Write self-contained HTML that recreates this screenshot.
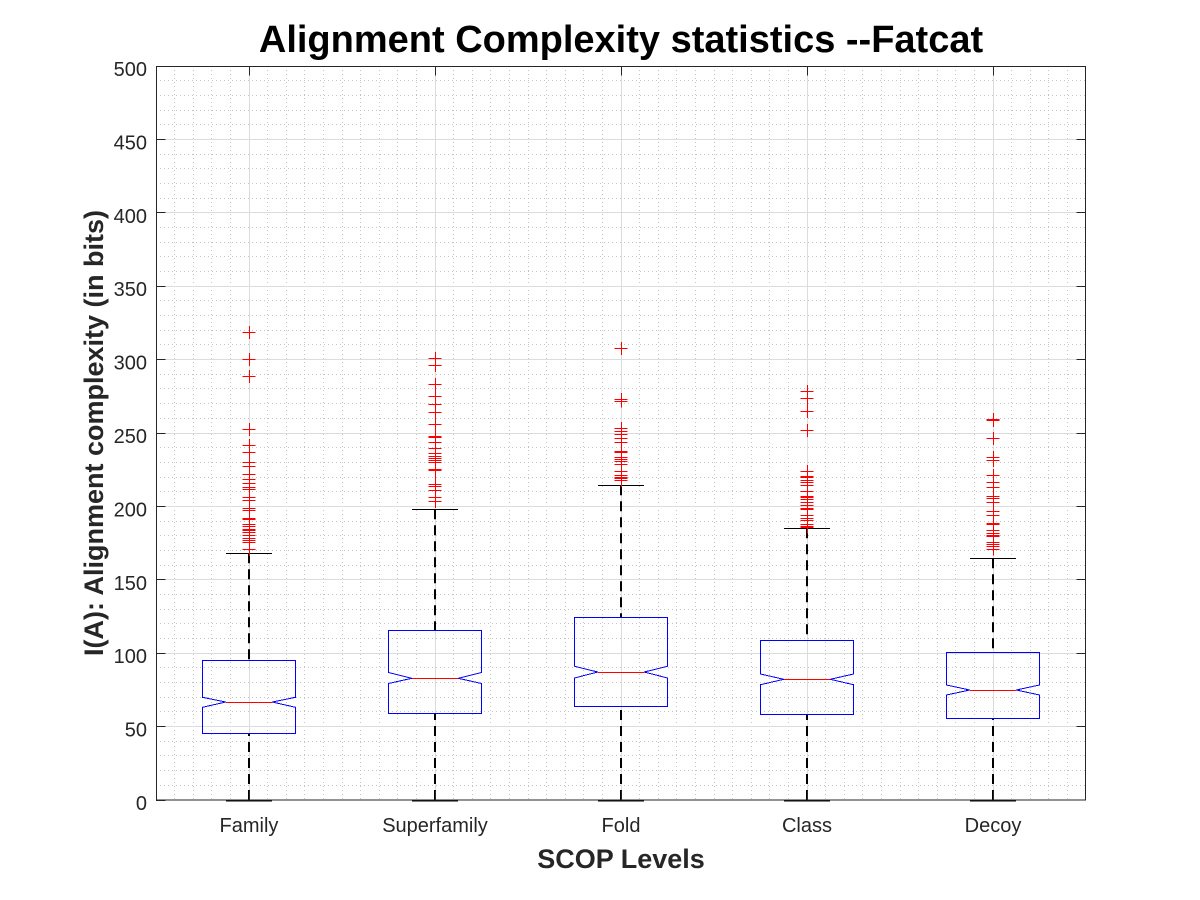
<!DOCTYPE html>
<html><head><meta charset="utf-8"><style>
html,body{margin:0;padding:0;background:#fff;}
svg{display:block;}
text{font-family:"Liberation Sans",Arial,sans-serif;}
</style></head><body>
<svg width="1200" height="900" viewBox="0 0 1200 900" xmlns="http://www.w3.org/2000/svg">
<rect x="0" y="0" width="1200" height="900" fill="#fff"/>
<rect x="156" y="66" width="930" height="734" fill="#fff"/>
<!-- minor grid -->
<path fill="none" stroke="#c4c4c4" stroke-width="1" stroke-dasharray="1,3" shape-rendering="crispEdges" d="M174.5 66V800M193.5 66V800M211.5 66V800M230.5 66V800M267.5 66V800M286.5 66V800M304.5 66V800M323.5 66V800M342.5 66V800M360.5 66V800M379.5 66V800M397.5 66V800M416.5 66V800M453.5 66V800M472.5 66V800M490.5 66V800M509.5 66V800M528.5 66V800M546.5 66V800M565.5 66V800M583.5 66V800M602.5 66V800M639.5 66V800M658.5 66V800M676.5 66V800M695.5 66V800M714.5 66V800M732.5 66V800M751.5 66V800M769.5 66V800M788.5 66V800M825.5 66V800M844.5 66V800M862.5 66V800M881.5 66V800M900.5 66V800M918.5 66V800M937.5 66V800M955.5 66V800M974.5 66V800M1011.5 66V800M1030.5 66V800M1048.5 66V800M1067.5 66V800
M156 785.5H1086M156 770.5H1086M156 755.5H1086M156 741.5H1086M156 711.5H1086M156 697.5H1086M156 682.5H1086M156 667.5H1086M156 638.5H1086M156 623.5H1086M156 609.5H1086M156 594.5H1086M156 565.5H1086M156 550.5H1086M156 535.5H1086M156 521.5H1086M156 491.5H1086M156 477.5H1086M156 462.5H1086M156 447.5H1086M156 418.5H1086M156 403.5H1086M156 388.5H1086M156 374.5H1086M156 344.5H1086M156 330.5H1086M156 315.5H1086M156 300.5H1086M156 271.5H1086M156 256.5H1086M156 242.5H1086M156 227.5H1086M156 198.5H1086M156 183.5H1086M156 168.5H1086M156 154.5H1086M156 124.5H1086M156 110.5H1086M156 95.5H1086M156 80.5H1086"/>
<!-- major grid -->
<path fill="none" stroke="#dcdcdc" stroke-width="1" shape-rendering="crispEdges" d="M249.5 66V800M435.5 66V800M621.5 66V800M807.5 66V800M993.5 66V800
M156 726.5H1086M156 653.5H1086M156 579.5H1086M156 506.5H1086M156 433.5H1086M156 359.5H1086M156 286.5H1086M156 212.5H1086M156 139.5H1086"/>

<!-- whiskers -->
<g fill="none" stroke="#000" stroke-width="2" stroke-dasharray="10,6">
<path d="M249 553.3V660.3"/><path d="M249 800V733.3"/>
<path d="M435 509.3V630.3"/><path d="M435 800V713.3"/>
<path d="M621 485.3V617.3"/><path d="M621 800V706.3"/>
<path d="M807 528.3V640.3"/><path d="M807 800V714.3"/>
<path d="M993 558.3V652"/><path d="M993 800V718"/>
</g>
<!-- caps -->
<path fill="none" stroke="#000" stroke-width="1" shape-rendering="crispEdges" d="M226 553.5H272M412 509.5H458M598 485.5H644M784 528.5H830M970 558.5H1016"/>
<path fill="none" stroke="#000" stroke-width="2" shape-rendering="crispEdges" d="M226 800.5H272M412 800.5H458M598 800.5H644M784 800.5H830M970 800.5H1016"/>

<!-- boxes -->
<g fill="none" stroke="#0000ff" stroke-width="1" shape-rendering="crispEdges">
<path d="M202.5 660.5H295.5V697.3L272.25 702L295.5 707.3V733.5H202.5V707.3L225.75 702L202.5 697.3Z"/>
<path d="M388.5 630.5H481.5V672.5L458.25 678.3L481.5 683.5V713.5H388.5V683.5L411.75 678.3L388.5 672.5Z"/>
<path d="M574.5 617.5H667.5V666.3L644.25 672L667.5 678V706.5H574.5V678L597.75 672L574.5 666.3Z"/>
<path d="M760.5 640.5H853.5V674L830.25 679.3L853.5 684.7V714.5H760.5V684.7L783.75 679.3L760.5 674Z"/>
<path d="M946.5 652.5H1039.5V685L1016.25 690L1039.5 695V718.5H946.5V695L969.75 690L946.5 685Z"/>
</g>
<path fill="none" stroke="#ff0000" stroke-width="1" shape-rendering="crispEdges" d="M225.75 702.5H272.25M411.75 678.5H458.25M597.75 672.5H644.25M783.75 679.5H830.25M969.75 690.5H1016.25"/>

<!-- outliers -->
<g fill="none" stroke="#ff0000" stroke-width="1" shape-rendering="crispEdges">
<path d="M249.5 325.8V338.8M249.5 352.8V365.8M249.5 370.2V383.2M249.5 422.8V435.8M249.5 438.8V555.8
M242.5 332.5h13M242.5 359.5h13M242.5 376.5h13M242.5 429.5h13M242.5 445.5h13M242.5 452.5h13M242.5 462.5h13M242.5 466.5h13M242.5 474.5h13M242.5 479.5h13M242.5 483.5h13M242.5 487.5h13M242.5 489.5h13M242.5 497.5h13M242.5 500.5h13M242.5 508.5h13M242.5 510.5h13M242.5 518.5h13M242.5 519.5h13M242.5 524.5h13M242.5 526.5h13M242.5 529.5h13M242.5 530.5h13M242.5 532.5h13M242.5 535.5h13M242.5 538.5h13M242.5 540.5h13M242.5 542.5h13M242.5 549.5h13"/>
<path d="M435.5 351.8V371.8M435.5 377.8V507.8
M428.5 358.5h13M428.5 365.5h13M428.5 384.5h13M428.5 396.5h13M428.5 404.5h13M428.5 412.5h13M428.5 424.5h13M428.5 436.5h13M428.5 437.5h13M428.5 442.5h13M428.5 448.5h13M428.5 453.5h13M428.5 456.5h13M428.5 458.5h13M428.5 460.5h13M428.5 462.5h13M428.5 469.5h13M428.5 470.5h13M428.5 484.5h13M428.5 486.5h13M428.5 490.5h13M428.5 497.5h13M428.5 501.5h13"/>
<path d="M621.5 341.8V354.8M621.5 393.2V407.5M621.5 421.8V486.8
M614.5 348.5h13M614.5 399.5h13M614.5 401.5h13M614.5 428.5h13M614.5 431.5h13M614.5 434.5h13M614.5 438.5h13M614.5 442.5h13M614.5 451.5h13M614.5 452.5h13M614.5 457.5h13M614.5 459.5h13M614.5 461.5h13M614.5 464.5h13M614.5 471.5h13M614.5 475.5h13M614.5 477.5h13M614.5 478.5h13M614.5 480.5h13"/>
<path d="M807.5 384.8V417.8M807.5 423.8V436.8M807.5 464.8V533.5
M800.5 391.5h13M800.5 398.5h13M800.5 411.5h13M800.5 430.5h13M800.5 471.5h13M800.5 476.5h13M800.5 477.5h13M800.5 480.5h13M800.5 482.5h13M800.5 485.5h13M800.5 491.5h13M800.5 496.5h13M800.5 497.5h13M800.5 499.5h13M800.5 502.5h13M800.5 505.5h13M800.5 508.5h13M800.5 509.5h13M800.5 515.5h13M800.5 518.5h13M800.5 520.5h13M800.5 524.5h13M800.5 526.5h13M800.5 527.5h13"/>
<path d="M993.5 413V427M993.5 431.8V444.8M993.5 451V466.8M993.5 469V555.5
M986.5 419.5h13M986.5 420.5h13M986.5 438.5h13M986.5 457.5h13M986.5 460.5h13M986.5 475.5h13M986.5 482.5h13M986.5 487.5h13M986.5 496.5h13M986.5 498.5h13M986.5 502.5h13M986.5 511.5h13M986.5 515.5h13M986.5 523.5h13M986.5 524.5h13M986.5 530.5h13M986.5 533.5h13M986.5 535.5h13M986.5 536.5h13M986.5 542.5h13M986.5 544.5h13M986.5 546.5h13M986.5 549.5h13"/>
</g>

<!-- axes box and ticks -->
<rect x="156.5" y="66.5" width="929" height="733.5" fill="none" stroke="#262626" stroke-width="1" shape-rendering="crispEdges"/>
<path fill="none" stroke="#262626" stroke-width="1" shape-rendering="crispEdges" d="M156 800.5H165.5M156 726.5H165.5M156 653.5H165.5M156 579.5H165.5M156 506.5H165.5M156 433.5H165.5M156 359.5H165.5M156 286.5H165.5M156 212.5H165.5M156 139.5H165.5M156 66.5H165.5
M1086 726.5H1076.5M1086 653.5H1076.5M1086 579.5H1076.5M1086 506.5H1076.5M1086 433.5H1076.5M1086 359.5H1076.5M1086 286.5H1076.5M1086 212.5H1076.5M1086 139.5H1076.5
M249.5 66V75.5M435.5 66V75.5M621.5 66V75.5M807.5 66V75.5M993.5 66V75.5
M249.5 800V790.5M435.5 800V790.5M621.5 800V790.5M807.5 800V790.5M993.5 800V790.5"/>

<!-- y tick labels -->
<g font-size="20" fill="#262626" text-anchor="end">
<text x="147" y="810">0</text>
<text x="147" y="736.6">50</text>
<text x="147" y="663.2">100</text>
<text x="147" y="589.8">150</text>
<text x="147" y="516.4">200</text>
<text x="147" y="443">250</text>
<text x="147" y="369.6">300</text>
<text x="147" y="296.2">350</text>
<text x="147" y="222.8">400</text>
<text x="147" y="149.4">450</text>
<text x="147" y="76">500</text>
</g>
<!-- x tick labels -->
<g font-size="20" fill="#262626" text-anchor="middle">
<text x="249" y="832">Family</text>
<text x="435" y="832">Superfamily</text>
<text x="621" y="832">Fold</text>
<text x="807" y="832">Class</text>
<text x="993" y="832">Decoy</text>
</g>
<text x="621" y="868" font-size="27" font-weight="bold" fill="#262626" text-anchor="middle">SCOP Levels</text>
<text transform="translate(103,433) rotate(-90)" x="0" y="0" font-size="27" font-weight="bold" fill="#262626" text-anchor="middle">I(A): Alignment complexity (in bits)</text>
<text x="621" y="52" font-size="38" font-weight="bold" fill="#000" text-anchor="middle">Alignment Complexity statistics --Fatcat</text>
</svg>
</body></html>
